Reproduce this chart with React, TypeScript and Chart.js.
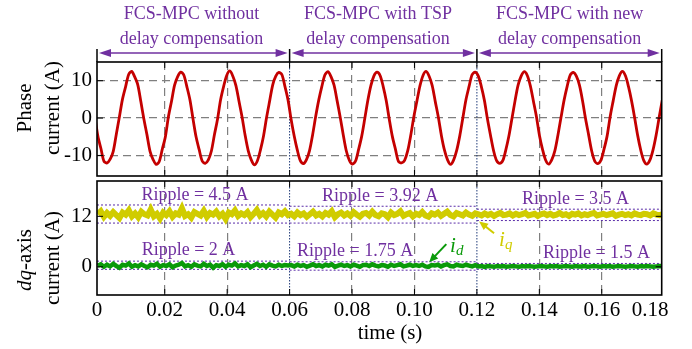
import React, { useEffect, useRef } from "react";
import { Chart, registerables } from "chart.js";
Chart.register(...registerables);

// ---------- data ----------
const X_MIN = -0.0017;
const X_MAX = 0.1792;
const X_TICKS = [X_MIN, 0.02, 0.04, 0.06, 0.08, 0.1, 0.12, 0.14, 0.16, 0.1755];
const X_TICK_LABELS = ["0", "0.02", "0.04", "0.06", "0.08", "0.10", "0.12", "0.14", "0.16", "0.18"];
const SEGMENT_BOUNDS = [X_MIN, 0.06, 0.12, X_MAX];
const SEGMENT_TITLES = [
  ["FCS-MPC without", "delay compensation"],
  ["FCS-MPC with TSP", "delay compensation"],
  ["FCS-MPC with new", "delay compensation"],
];
const SEGMENT_TITLE_X = [0.0286, 0.0883, 0.1497];

const PHASE_Y_TICKS = [-10, 0, 10];
const DQ_Y_TICKS = [0, 12];

// phase current samples (A), sample step PHASE_DT starting at PHASE_T0
const PHASE_T0 = -0.00239;
const PHASE_DT = 0.0009825;
const PHASE_CURRENT = [
  0.4, -4.9, -8.2, -11.6, -12.0, -11.0, -8.9, -4.3, 0.3, 5.0, 8.3, 11.6, 12.5, 11.0, 8.9, 4.4,
  -0.3, -4.5, -8.9, -11.1, -12.4, -11.6, -8.3, -5.0, 0.4, 4.5, 8.8, 11.1, 12.3, 11.5, 8.4, 4.9,
  -0.2, -5.0, -8.4, -11.5, -12.1, -11.2, -8.8, -4.4, -0.3, 4.9, 8.5, 11.4, 12.6, 11.2, 8.7, 4.5,
  0.3, -4.6, -8.7, -11.2, -12.5, -11.4, -8.5, -4.8, 0.2, 4.6, 8.9, 11.2, 12.2, 11.6, 8.4, 4.8,
  -0.4, -4.8, -8.5, -11.4, -12.2, -11.1, -8.7, -4.5, 0.4, 4.8, 8.4, 11.5, 12.4, 11.1, 8.8, 4.6,
  0.2, -4.5, -8.8, -11.3, -12.3, -11.5, -8.4, -4.9, -0.2, 4.7, 8.7, 11.3, 12.3, 11.4, 8.5, 4.7,
  -0.3, -4.9, -8.3, -11.6, -12.0, -11.3, -8.8, -4.6, 0.3, 4.5, 8.6, 11.4, 12.5, 11.2, 8.7, 4.4,
  0.2, -4.7, -8.6, -11.2, -12.4, -11.2, -8.6, -4.7, 0.1, 4.9, 8.4, 11.6, 12.3, 11.3, 8.5, 4.8,
  -0.2, -4.6, -8.7, -11.4, -12.1, -11.4, -8.5, -4.8, -0.1, 4.6, 8.8, 11.2, 12.4, 11.4, 8.6, 4.5,
  0.3, -4.8, -8.5, -11.3, -12.3, -11.1, -8.7, -4.5, 0.2, 4.8, 8.5, 11.5, 12.2, 11.2, 8.8, 4.7,
  -0.2, -4.5, -8.8, -11.5, -12.2, -11.3, -8.4, -4.9, 0.3, 4.6, 8.7, 11.3, 12.5, 11.3, 8.4, 4.6,
  0.1, -4.7, -8.6, -11.4, -12.3, -11.2, -8.5, -4.6, 0.2, 4.8,
];

// dq currents (A), sample step DQ_DT starting at DQ_T0
const DQ_T0 = -0.0015;
const DQ_DT = 0.001;
const IQ_CURRENT = [
  12.5, 13.2, 11.9, 12.8, 12.1, 13.0, 12.3, 11.6, 12.9, 12.4, 13.4, 12.0, 12.7, 11.8, 13.1, 12.5, 12.2, 13.6, 12.0, 12.6,
  11.5, 12.9, 12.3, 13.2, 11.9, 12.7, 12.4, 13.9, 12.1, 12.5, 11.7, 13.0, 12.6, 12.2, 13.3, 11.9, 12.8, 12.4, 13.1, 12.0,
  12.6, 11.4, 12.9, 12.5, 13.4, 12.1, 12.7, 12.3, 13.0, 11.8, 12.6, 13.5, 12.2, 12.8, 12.0, 13.1, 12.4, 11.7, 12.9, 12.5,
  13.2, 12.3,
  12.6, 12.0, 12.9, 12.3, 12.7, 11.9, 12.5, 13.1, 12.2, 12.6, 12.0, 12.8, 12.4, 13.2, 11.8, 12.5, 12.9, 12.2, 12.7, 12.1,
  13.0, 12.4, 11.9, 12.6, 12.8, 12.2, 13.1, 12.3, 12.0, 12.7, 12.5, 11.8, 12.9, 12.3, 12.6, 13.2, 12.1, 12.5, 12.8, 12.0,
  12.6, 12.3, 13.0, 12.2, 11.9, 12.7, 12.4, 12.9, 12.1, 12.6, 13.1, 12.3, 12.0, 12.8, 12.5, 12.2, 12.9, 12.4, 12.1, 12.7,
  12.5, 12.2, 12.7, 12.3, 12.6, 12.1, 12.5, 12.8, 12.3, 12.4, 12.7, 12.2, 12.6, 12.3, 12.5, 12.8, 12.2, 12.4, 12.6, 12.1,
  12.5, 12.7, 12.3, 12.6, 12.2, 12.4, 12.8, 12.3, 12.5, 12.1, 12.6, 12.4, 12.7, 12.2, 12.5, 12.3, 12.6, 12.8, 12.2, 12.4,
  12.6, 12.3, 12.5, 12.7, 12.1, 12.4, 12.6, 12.3, 12.5, 12.2, 12.7, 12.4, 12.3, 12.6, 12.5, 12.2, 12.7, 12.4, 12.3, 12.5,
];
const ID_CURRENT = [
  0.3, 0.6, 0.0, 0.5, 0.1, 0.7, 0.2, -0.2, 0.5, 0.3, 0.8, 0.0, 0.4, 0.1, 0.6, 0.2, -0.1, 0.5, 0.3, 0.7,
  0.0, 0.4, 0.2, 0.6, -0.1, 0.3, 0.5, 0.9, 0.1, 0.4, 0.0, 0.6, 0.3, 0.1, 0.7, 0.2, 0.5, -0.2, 0.4, 0.2,
  0.6, 0.0, 0.5, 0.3, 0.8, 0.1, 0.4, 0.2, 0.6, -0.1, 0.3, 0.7, 0.2, 0.5, 0.0, 0.6, 0.3, 0.1, 0.5, 0.2,
  0.4, 0.3,
  0.4, 0.1, 0.5, 0.2, 0.4, 0.0, 0.3, 0.6, 0.2, 0.4, 0.1, 0.5, 0.3, 0.6, 0.0, 0.3, 0.5, 0.2, 0.4, 0.1,
  0.5, 0.3, 0.0, 0.4, 0.5, 0.2, 0.6, 0.3, 0.1, 0.4, 0.3, 0.0, 0.5, 0.2, 0.4, 0.6, 0.1, 0.3, 0.5, 0.2,
  0.4, 0.2, 0.5, 0.1, 0.0, 0.4, 0.3, 0.5, 0.1, 0.4, 0.6, 0.2, 0.1, 0.5, 0.3, 0.2, 0.5, 0.3, 0.1, 0.4,
  0.1, 0.2, 0.0, 0.2, 0.1, 0.0, 0.2, 0.1, 0.2, 0.0, 0.1, 0.2, 0.1, 0.0, 0.2, 0.1, 0.2, 0.1, 0.0, 0.1,
  0.2, 0.1, 0.0, 0.2, 0.1, 0.2, 0.0, 0.1, 0.2, 0.1, 0.0, 0.2, 0.1, 0.1, 0.2, 0.0, 0.1, 0.2, 0.1, 0.0,
  0.2, 0.1, 0.2, 0.0, 0.1, 0.2, 0.1, 0.0, 0.1, 0.2, 0.1, 0.0, 0.2, 0.1, 0.2, 0.1, 0.0, 0.1, 0.2, 0.1,
];

const IQ_RIPPLE_BANDS = [[10.4, 14.7], [10.4, 14.4], [11.0, 13.7]];
const ID_RIPPLE_BANDS = [[-0.6, 1.35], [-0.8, 1.2], [-0.6, 0.8]];
const IQ_RIPPLE_LABELS = ["Ripple = 4.5 A", "Ripple = 3.92 A", "Ripple = 3.5 A"];
const ID_RIPPLE_LABELS = ["Ripple = 2 A", "Ripple = 1.75 A", "Ripple = 1.5 A"];

// ---------- layout / style ----------
const IQ_LABEL_POS = [[0.0297, 15.8], [0.089, 15.6], [0.1516, 15.0]];
const ID_LABEL_POS = [[0.0276, 2.8], [0.081, 2.5], [0.1583, 2.2]];
const ID_ARROW = { from: [0.1102, 5.4], to: [0.1047, 1.1], label: [0.1114, 4.9] };
const IQ_ARROW = { from: [0.1255, 8.0], to: [0.1207, 10.8], label: [0.1271, 6.3] };

const FONT = "'Liberation Serif', 'Times New Roman', serif";
const PURPLE = "#7030a0";
const RIPPLE_LINE = "#5a2ca8";
const SEP_COLOR = "#1f3a78";
const GRID = "#7f7f7f";
const RED = "#c40000";
const YELLOW = "#d0cc00";
const GREEN = "#0a9a0a";

Chart.defaults.font.family = FONT;

const near = (a: number, b: number) => Math.abs(a - b) < 1e-6;
const INNER_X_TICKS = X_TICKS.slice(1, -1);
const isHiddenGrid = (v: number) => near(v, X_MIN) || near(v, 0.1755) || near(v, 0.06) || near(v, 0.12);

function line(ctx: CanvasRenderingContext2D, x1: number, y1: number, x2: number, y2: number) {
  ctx.beginPath();
  ctx.moveTo(x1, y1);
  ctx.lineTo(x2, y2);
  ctx.stroke();
}

function arrowHead(ctx: CanvasRenderingContext2D, fx: number, fy: number, tx: number, ty: number, len: number, half: number) {
  const ang = Math.atan2(ty - fy, tx - fx);
  ctx.beginPath();
  ctx.moveTo(tx, ty);
  ctx.lineTo(tx - len * Math.cos(ang) + half * Math.sin(ang), ty - len * Math.sin(ang) - half * Math.cos(ang));
  ctx.lineTo(tx - len * Math.cos(ang) - half * Math.sin(ang), ty - len * Math.sin(ang) + half * Math.cos(ang));
  ctx.closePath();
  ctx.fill();
}

function drawSeparators(chart: any) {
  const { ctx, chartArea: a, scales } = chart;
  const x = scales.x;
  ctx.save();
  ctx.strokeStyle = SEP_COLOR;
  ctx.lineWidth = 1;
  ctx.setLineDash([1.5, 1.5]);
  for (const v of [0.06, 0.12]) {
    const px = x.getPixelForValue(v);
    line(ctx, px, a.top, px, a.bottom);
  }
  ctx.restore();
}

function drawBoxAndTicks(chart: any) {
  const { ctx, chartArea: a, scales } = chart;
  const x = scales.x;
  const y = scales.y;
  ctx.save();
  ctx.strokeStyle = "#000";
  ctx.lineWidth = 1;
  for (const v of INNER_X_TICKS) {
    const px = x.getPixelForValue(v);
    line(ctx, px, a.bottom, px, a.bottom - 6);
    line(ctx, px, a.top, px, a.top + 6);
  }
  for (const t of y.ticks) {
    const py = y.getPixelForValue(t.value);
    line(ctx, a.left, py, a.left + 6, py);
    line(ctx, a.right, py, a.right - 6, py);
  }
  ctx.lineWidth = 1.6;
  ctx.strokeRect(a.left, a.top, a.right - a.left, a.bottom - a.top);
  ctx.restore();
}

function drawRotated(ctx: CanvasRenderingContext2D, cx: number, cy: number, parts: [string, string][]) {
  ctx.save();
  ctx.translate(cx, cy);
  ctx.rotate(-Math.PI / 2);
  ctx.textBaseline = "middle";
  ctx.textAlign = "left";
  let w = 0;
  for (const [t, f] of parts) {
    ctx.font = f;
    w += ctx.measureText(t).width;
  }
  let xx = -w / 2;
  for (const [t, f] of parts) {
    ctx.font = f;
    ctx.fillStyle = "#000";
    ctx.fillText(t, xx, 0);
    xx += ctx.measureText(t).width;
  }
  ctx.restore();
}

const topPlugin = {
  id: "topDecor",
  beforeDatasetsDraw(chart: any) {
    drawSeparators(chart);
  },
  afterDraw(chart: any) {
    drawBoxAndTicks(chart);
    const { ctx, chartArea: a, scales } = chart;
    const x = scales.x;
    ctx.save();
    ctx.strokeStyle = "#000";
    ctx.lineWidth = 1.5;
    for (const v of SEGMENT_BOUNDS) {
      const px = x.getPixelForValue(v);
      line(ctx, px, a.top - 13, px, a.top);
    }
    ctx.strokeStyle = PURPLE;
    ctx.fillStyle = PURPLE;
    ctx.lineWidth = 1.5;
    const ay = a.top - 9;
    for (let i = 0; i < 3; i++) {
      const x0 = x.getPixelForValue(SEGMENT_BOUNDS[i]) + 2;
      const x1 = x.getPixelForValue(SEGMENT_BOUNDS[i + 1]) - 2;
      line(ctx, x0 + 6, ay, x1 - 6, ay);
      arrowHead(ctx, x1, ay, x0, ay, 12, 4);
      arrowHead(ctx, x0, ay, x1, ay, 12, 4);
    }
    ctx.font = `18px ${FONT}`;
    ctx.textAlign = "center";
    ctx.textBaseline = "alphabetic";
    for (let i = 0; i < 3; i++) {
      const cx = x.getPixelForValue(SEGMENT_TITLE_X[i]);
      ctx.fillText(SEGMENT_TITLES[i][0], cx, a.top - 43);
      ctx.fillText(SEGMENT_TITLES[i][1], cx, a.top - 18);
    }
    ctx.restore();
    drawRotated(ctx, 25, a.top + 46, [["Phase", `21px ${FONT}`]]);
    drawRotated(ctx, 53, a.top + 46, [["current (A)", `21px ${FONT}`]]);
  },
};

const bottomPlugin = {
  id: "bottomDecor",
  beforeDatasetsDraw(chart: any) {
    drawSeparators(chart);
  },
  afterDraw(chart: any) {
    drawBoxAndTicks(chart);
    const { ctx, chartArea: a, scales } = chart;
    const x = scales.x;
    const y = scales.y;
    ctx.save();
    ctx.fillStyle = PURPLE;
    ctx.font = `18px ${FONT}`;
    ctx.textAlign = "center";
    ctx.textBaseline = "alphabetic";
    for (let i = 0; i < 3; i++) {
      ctx.fillText(IQ_RIPPLE_LABELS[i], x.getPixelForValue(IQ_LABEL_POS[i][0]), y.getPixelForValue(IQ_LABEL_POS[i][1]));
      ctx.fillText(ID_RIPPLE_LABELS[i], x.getPixelForValue(ID_LABEL_POS[i][0]), y.getPixelForValue(ID_LABEL_POS[i][1]));
    }
    const arrows: [typeof ID_ARROW, string, string][] = [
      [ID_ARROW, GREEN, "d"],
      [IQ_ARROW, YELLOW, "q"],
    ];
    for (const [ar, col, sub] of arrows) {
      const fx = x.getPixelForValue(ar.from[0]);
      const fy = y.getPixelForValue(ar.from[1]);
      const tx = x.getPixelForValue(ar.to[0]);
      const ty = y.getPixelForValue(ar.to[1]);
      ctx.strokeStyle = col;
      ctx.fillStyle = col;
      ctx.lineWidth = 2;
      const ang = Math.atan2(ty - fy, tx - fx);
      line(ctx, fx, fy, tx - 6 * Math.cos(ang), ty - 6 * Math.sin(ang));
      arrowHead(ctx, fx, fy, tx, ty, 9, 4);
      const lx = x.getPixelForValue(ar.label[0]);
      const ly = y.getPixelForValue(ar.label[1]);
      ctx.textAlign = "left";
      ctx.textBaseline = "middle";
      ctx.font = `italic 21px ${FONT}`;
      ctx.fillText("i", lx, ly);
      const w = ctx.measureText("i").width;
      ctx.font = `italic 15px ${FONT}`;
      ctx.fillText(sub, lx + w, ly + 5);
    }
    ctx.fillStyle = "#000";
    ctx.font = `21px ${FONT}`;
    ctx.textAlign = "center";
    ctx.textBaseline = "middle";
    ctx.fillText("time (s)", 390, a.bottom + 38);
    ctx.restore();
    drawRotated(ctx, 25, a.top + 79, [["dq", `italic 21px ${FONT}`], ["-axis", `21px ${FONT}`]]);
    drawRotated(ctx, 53, a.top + 77, [["current (A)", `21px ${FONT}`]]);
  },
};

function zeroPad(s: any) {
  s.paddingTop = 0;
  s.paddingBottom = 0;
  s.paddingLeft = 0;
  s.paddingRight = 0;
}

function xScale(showLabels: boolean): any {
  return {
    type: "linear",
    min: X_MIN,
    max: X_MAX,
    afterBuildTicks: (s: any) => {
      s.ticks = X_TICKS.map((v) => ({ value: v }));
    },
    ticks: {
      display: showLabels,
      autoSkip: false,
      maxRotation: 0,
      minRotation: 0,
      padding: 2.5,
      color: "#000",
      font: { size: 21, family: FONT },
      callback: (_v: any, i: number) => X_TICK_LABELS[i],
    },
    grid: {
      color: (c: any) => (c.tick && isHiddenGrid(c.tick.value) ? "rgba(0,0,0,0)" : GRID),
      lineWidth: 1.2,
      drawTicks: false,
    },
    border: { display: false, dash: [8, 5] },
    afterFit: (s: any) => {
      s.height = showLabels ? 54 : 0;
      zeroPad(s);
    },
  };
}

function yScale(min: number, max: number, ticks: number[], grid: boolean): any {
  return {
    type: "linear",
    min,
    max,
    afterBuildTicks: (s: any) => {
      s.ticks = ticks.map((v) => ({ value: v }));
    },
    ticks: {
      padding: 5,
      color: "#000",
      font: { size: 21, family: FONT },
      callback: (v: any) => String(v),
    },
    grid: { display: grid, color: GRID, lineWidth: 1.2, drawTicks: false },
    border: { display: false, dash: [8, 5] },
    afterFit: (s: any) => {
      s.width = 97;
      zeroPad(s);
    },
  };
}

function bandDatasets(bands: number[][]) {
  const out: any[] = [];
  bands.forEach((b, i) => {
    for (const v of b) {
      out.push({
        data: [
          { x: SEGMENT_BOUNDS[i], y: v },
          { x: SEGMENT_BOUNDS[i + 1], y: v },
        ],
        borderColor: RIPPLE_LINE,
        borderWidth: 1,
        borderDash: [2, 2],
        pointRadius: 0,
      });
    }
  });
  return out;
}

export default function App() {
  const topRef = useRef<HTMLCanvasElement>(null);
  const botRef = useRef<HTMLCanvasElement>(null);

  useEffect(() => {
    const phasePts = PHASE_CURRENT.map((v, k) => ({ x: PHASE_T0 + k * PHASE_DT, y: v }));
    const iqPts = IQ_CURRENT.map((v, k) => ({ x: DQ_T0 + k * DQ_DT, y: v }));
    const idPts = ID_CURRENT.map((v, k) => ({ x: DQ_T0 + k * DQ_DT, y: v }));

    const common: any = {
      responsive: false,
      animation: false,
      events: [],
      plugins: { legend: { display: false }, tooltip: { enabled: false } },
    };

    const top = new Chart(topRef.current!, {
      type: "line",
      data: {
        datasets: [
          { data: phasePts, borderColor: RED, borderWidth: 2.8, pointRadius: 0, tension: 0.3 },
        ],
      },
      options: {
        ...common,
        layout: { padding: { left: 0, right: 30.3, top: 62, bottom: 2 } },
        scales: { x: xScale(false), y: yScale(-15.5, 15, PHASE_Y_TICKS, true) },
      },
      plugins: [topPlugin],
    } as any);

    const bot = new Chart(botRef.current!, {
      type: "line",
      data: {
        datasets: [
          { data: idPts, borderColor: GREEN, borderWidth: 4.5, pointRadius: 0, tension: 0 },
          { data: iqPts, borderColor: YELLOW, borderWidth: 6, pointRadius: 0, tension: 0 },
          ...bandDatasets(IQ_RIPPLE_BANDS),
          ...bandDatasets(ID_RIPPLE_BANDS),
        ],
      },
      options: {
        ...common,
        layout: { padding: { left: 0, right: 30.3, top: 3, bottom: 0 } },
        scales: { x: xScale(true), y: yScale(-6.7, 20.4, DQ_Y_TICKS, false) },
      },
      plugins: [bottomPlugin],
    } as any);

    return () => {
      top.destroy();
      bot.destroy();
    };
  }, []);

  return (
    <div style={{ position: "fixed", left: 0, top: 0, width: 692, height: 349, background: "#fff" }}>
      <canvas ref={topRef} width={692} height={178} style={{ position: "absolute", left: 0, top: 0 }} />
      <canvas ref={botRef} width={692} height={171} style={{ position: "absolute", left: 0, top: 178 }} />
    </div>
  );
}
